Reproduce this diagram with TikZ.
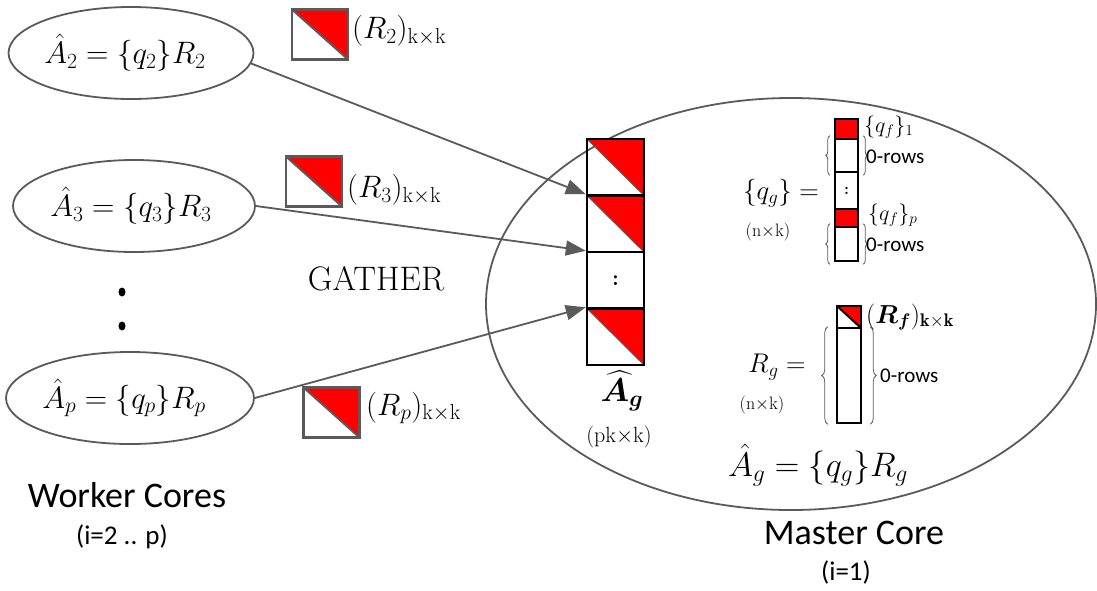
\RequirePackage{fix-cm}
\documentclass[tikz,border=0pt]{standalone}
\usepackage{amsmath,bm}
\usepackage{fontspec}
\newfontfamily\calibri{Carlito}
\usetikzlibrary{shapes.geometric,arrows.meta,decorations.pathreplacing}
\definecolor{lgray}{HTML}{5A5A5A}
\definecolor{tred}{HTML}{FF0000}
\tikzset{
  worker/.style={ellipse, draw=lgray, line width=1.8pt, inner sep=0pt,
    minimum width=242pt, minimum height=92pt, font=\fontsize{31}{34}\selectfont},
  redtri/.style={path picture={
    \fill[tred] (path picture bounding box.north west) -- (path picture bounding box.north east)
      -- (path picture bounding box.south east) -- cycle;
    \draw[#1] (path picture bounding box.north west) -- (path picture bounding box.south east);}},
  trisq/.style={draw=lgray, line width=2.5pt, minimum width=56pt, minimum height=50pt,
    inner sep=0pt, redtri={lgray, line width=2pt}},
  agcell/.style={draw=black, line width=2.5pt, minimum width=57pt, minimum height=56.5pt, inner sep=0pt},
  qcell/.style={draw=black, line width=2.5pt, minimum width=23pt, inner sep=0pt},
  gather/.style={-{Triangle[length=20pt,width=15pt]}, draw=lgray, fill=lgray, line width=1.8pt},
  gbrace/.style={draw=lgray, line width=0.8pt, decorate, decoration={brace, amplitude=#1}},
  lbl/.style={inner sep=0pt, anchor=west},
  rlbl/.style={inner sep=0pt, anchor=west, font=\fontsize{31}{34}\selectfont},
  core/.style={font=\calibri\fontsize{36}{40}\selectfont},
  coresub/.style={font=\calibri\fontsize{27}{30}\selectfont},
  zrows/.style={font=\calibri\fontsize{21}{24}\selectfont, inner sep=0pt, anchor=west},
  dims/.style={font=\fontsize{18}{22}\selectfont}
}
\begin{document}
\begin{tikzpicture}[x=1pt, y=-1pt]
\useasboundingbox (0,0) rectangle (1097,590);

% master core
\node[ellipse, draw=lgray, line width=1.8pt, minimum width=610pt, minimum height=412pt, inner sep=0pt] (me) at (791,304) {};

% worker ellipses
\node[worker] (e2) at (131,53) {$\hat{A}_2 = \{q_2\}R_2$\kern12pt};
\node[worker] (e3) at (134,206) {$\hat{A}_3 = \{q_3\}R_3$\kern6pt};
\node[worker] (ep) at (130,398) {$\hat{A}_p = \{q_p\}R_p$\kern12pt};
\fill (122,292) ellipse [x radius=3.5pt, y radius=4.5pt];
\fill (122,326) ellipse [x radius=3.5pt, y radius=4.5pt];

% R squares
\node[trisq] (r2) at (320,34.5) {};
\node[rlbl] (r2l) at (352,31) {$(R_2)_{\mathrm{k\times k}}$};
\node[trisq] (r3) at (314,181.5) {};
\node[rlbl] (r3l) at (347,190) {$(R_3)_{\mathrm{k\times k}}$};
\node[trisq] (rp) at (331.5,412.5) {};
\node[rlbl] (rpl) at (366,408) {$(R_p)_{\mathrm{k\times k}}$};

\node[font=\fontsize{34}{38}\selectfont] (gth) at (376,279) {GATHER};

% gathered A column
\node[agcell, redtri={lgray, line width=1pt}] (ag1) at (615.5,167.25) {};
\node[agcell, redtri={lgray, line width=1pt}] (ag2) at (615.5,223.75) {};
\node[agcell, font=\bfseries\fontsize{22}{24}\selectfont] (ag3) at (615.5,280.25) {:};
\node[agcell, redtri={lgray, line width=1pt}] (ag4) at (615.5,336.75) {};
\node[font=\fontsize{33}{36}\selectfont] (agl) at (622,391) {$\widehat{\boldsymbol{A}}_{\boldsymbol{g}}$};
\node[font=\fontsize{22}{26}\selectfont] (agd) at (619,437) {(pk$\times$k)};

% arrows
\draw[gather] (e2.-5) -- (ag2.north west);
\draw[gather] (e3.east) -- (ag3.north west);
\draw[gather] (ep.east) -- (ag4.north west);

% q_g
\node[font=\fontsize{27}{30}\selectfont] (qg) at (781,193) {$\{q_g\} =$};
\node[dims] (qgd) at (768,232) {(n$\times$k)};
\node[qcell, minimum height=20pt, fill=tred] (q1) at (846.5,129) {};
\node[qcell, minimum height=33pt] (q2) at (846.5,155.5) {};
\node[qcell, minimum height=37pt, font=\bfseries\fontsize{16}{18}\selectfont] (q3) at (846.5,190.5) {:};
\node[qcell, minimum height=18pt, fill=tred] (q4) at (846.5,218) {};
\node[qcell, minimum height=34pt] (q5) at (846.5,244) {};
\draw[gbrace=4pt] ([xshift=-4pt,yshift=-2pt]q2.south west) -- ([xshift=-4pt,yshift=2pt]q2.north west);
\draw[gbrace=4pt] ([xshift=4pt,yshift=2pt]q2.north east) -- ([xshift=4pt,yshift=-2pt]q2.south east);
\draw[gbrace=4pt] ([xshift=-4pt,yshift=-2pt]q5.south west) -- ([xshift=-4pt,yshift=2pt]q5.north west);
\draw[gbrace=4pt] ([xshift=4pt,yshift=2pt]q5.north east) -- ([xshift=4pt,yshift=-2pt]q5.south east);
\node[lbl, font=\fontsize{22}{24}\selectfont] (qf1) at (864,127) {$\{q_f\}_1$};
\node[zrows] (z1) at (866,157) {0-rows};
\node[lbl, font=\fontsize{22}{24}\selectfont] (qfp) at (868,215) {$\{q_f\}_p$};
\node[zrows] (z2) at (866,245) {0-rows};

% R_g
\node[font=\fontsize{27}{30}\selectfont] (rg) at (777,367) {$R_g =$};
\node[dims] (rgd) at (762,405) {(n$\times$k)};
\node[qcell, minimum width=24pt, minimum height=22pt, redtri={black, line width=2pt}] (rg1) at (849,317) {};
\node[qcell, minimum width=24pt, minimum height=95pt] (rg2) at (849,375.5) {};
\draw[gbrace=6pt] ([xshift=-8pt]rg2.south west) -- ([xshift=-8pt]rg2.north west);
\draw[gbrace=6pt] ([xshift=8pt]rg2.north east) -- ([xshift=8pt]rg2.south east);
\node[lbl, font=\fontsize{26}{28}\selectfont] (rfl) at (866,317) {$(\boldsymbol{R_f})_{\mathbf{k\times k}}$};
\node[zrows] (z3) at (880,376) {0-rows};

\node[font=\fontsize{34}{38}\selectfont] (eq) at (818,465) {$\hat{A}_g = \{q_g\}R_g$};

% captions
\node[core] (wc) at (127,495) {Worker Cores};
\node[coresub] (wci) at (122,537) {(i=2 .. p)};
\node[core] (mc) at (854,533) {Master Core};
\node[coresub] (mci) at (846,572) {(i=1)};
\end{tikzpicture}
\end{document}
